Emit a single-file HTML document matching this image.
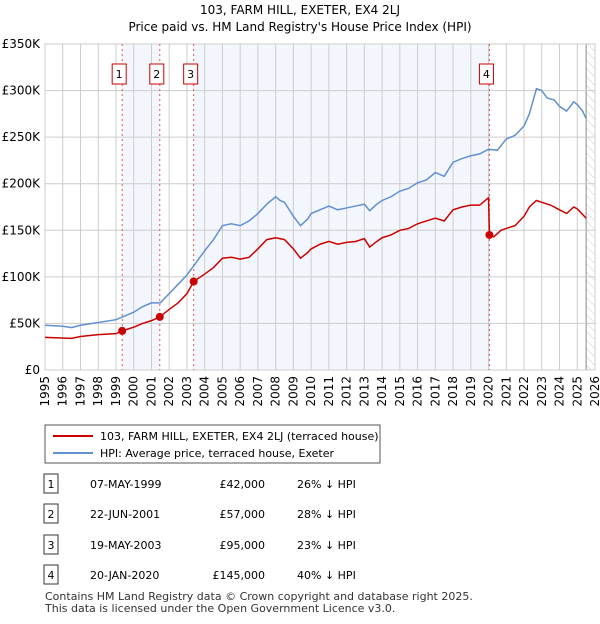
<!DOCTYPE html>
<html><head><meta charset="utf-8">
<style>
body{margin:0;background:#fff;font-family:"DejaVu Sans","Liberation Sans",sans-serif;}
svg text{font-family:"DejaVu Sans","Liberation Sans",sans-serif;}
</style></head>
<body>
<svg id="c" width="600" height="620" xmlns="http://www.w3.org/2000/svg">
<defs><pattern id="hatch" width="6" height="6" patternUnits="userSpaceOnUse" patternTransform="rotate(-45)"><line x1="0" y1="0" x2="0" y2="6" stroke="#ccc" stroke-width="1"/></pattern></defs>
<text x="300" y="14" text-anchor="middle" font-size="12">103, FARM HILL, EXETER, EX4 2LJ</text>
<text x="300" y="31" text-anchor="middle" font-size="12">Price paid vs. HM Land Registry's House Price Index (HPI)</text>
<g id="plot"></g>
<g>
<rect x="45" y="425" width="335" height="38" fill="#fff" stroke="#555"/>
<line x1="53" y1="436" x2="93" y2="436" stroke="#cc0000" stroke-width="2"/>
<text x="100" y="440" font-size="11">103, FARM HILL, EXETER, EX4 2LJ (terraced house)</text>
<line x1="53" y1="453" x2="93" y2="453" stroke="#6090d0" stroke-width="2"/>
<text x="100" y="457" font-size="11">HPI: Average price, terraced house, Exeter</text>
</g>
<g id="table" font-size="11"></g>
<text x="45" y="600" font-size="11" fill="#333">Contains HM Land Registry data © Crown copyright and database right 2025.</text>
<text x="45" y="612" font-size="11" fill="#333">This data is licensed under the Open Government Licence v3.0.</text>
</svg>
<script>
const hpiT=[1995,1996,1996.5,1997,1998,1999,1999.5,2000,2000.5,2001,2001.5,2002,2002.5,2003,2003.5,2004,2004.5,2005,2005.5,2006,2006.5,2007,2007.5,2008,2008.25,2008.5,2009,2009.4,2009.8,2010,2010.5,2011,2011.5,2012,2012.5,2013,2013.3,2013.7,2014,2014.5,2015,2015.5,2016,2016.5,2017,2017.5,2018,2018.5,2019,2019.5,2020,2020.5,2021,2021.5,2022,2022.3,2022.7,2023,2023.3,2023.7,2024,2024.4,2024.8,2025,2025.3,2025.5];
const hpiV=[48,47,45.5,48,51,54,58,62,68,72,72,82,92,102,115,128,140,155,157,155,160,168,178,186,182,180,165,155,162,168,172,176,172,174,176,178,171,178,182,186,192,195,201,204,212,208,223,227,230,232,237,236,248,252,262,275,302,300,292,290,283,278,288,285,278,270];
const priceT=[1995,1996.5,1997,1998,1999,1999.35,2000,2000.5,2001,2001.47,2002,2002.5,2003,2003.38,2004,2004.5,2005,2005.5,2006,2006.5,2007,2007.5,2008,2008.5,2009,2009.4,2009.8,2010,2010.5,2011,2011.5,2012,2012.5,2013,2013.3,2013.7,2014,2014.5,2015,2015.5,2016,2016.5,2017,2017.5,2018,2018.5,2019,2019.5,2020.0,2020.05,2020.3,2020.7,2021,2021.5,2022,2022.3,2022.7,2023,2023.5,2024,2024.4,2024.8,2025,2025.5];
const priceV=[35,34,36,38,39,42,46,50,53,57,65,72,82,95,103,110,120,121,119,121,130,140,142,140,130,120,126,130,135,138,135,137,138,141,132,138,142,145,150,152,157,160,163,160,172,175,177,177,185,145,143,150,152,155,165,175,182,180,177,172,168,175,173,163];
const saleT=[1999.35,2001.47,2003.38,2020.05];
const saleV=[42,57,95,145];
const saleLabels=["1","2","3","4"];
const saleDates=["07-MAY-1999","22-JUN-2001","19-MAY-2003","20-JAN-2020"];
const salePrices=["£42,000","£57,000","£95,000","£145,000"];
const salePct=["26% ↓ HPI","28% ↓ HPI","23% ↓ HPI","40% ↓ HPI"];
const yTicks=[0,50,100,150,200,250,300,350];
const yTickLabels=["£0","£50K","£100K","£150K","£200K","£250K","£300K","£350K"];
const xYears=[1995,1996,1997,1998,1999,2000,2001,2002,2003,2004,2005,2006,2007,2008,2009,2010,2011,2012,2013,2014,2015,2016,2017,2018,2019,2020,2021,2022,2023,2024,2025,2026];

const L=45,R=595,T=44,B=370;
const x=t=>L+(t-1995)/31*(R-L);
const y=v=>B-v/350*(B-T);
const NS="http://www.w3.org/2000/svg";
const g=document.getElementById('plot');
function mk(tag,at,parent){const e=document.createElementNS(NS,tag);for(const k in at)e.setAttribute(k,at[k]);(parent||g).appendChild(e);return e;}

let e;
e=mk('rect',{x:x(saleT[0]),y:T,width:x(saleT[1])-x(saleT[0]),height:B-T,fill:'#eef3fc',opacity:0.7});


e=mk('rect',{x:x(saleT[2]),y:T,width:x(saleT[3])-x(saleT[2]),height:B-T,fill:'#eef3fc',opacity:0.7});


e=mk('rect',{x:x(2025.5),y:T,width:R-x(2025.5),height:B-T,fill:'url(#hatch)'});


mk('line',{x1:x(2025.5),y1:T,x2:x(2025.5),y2:B,stroke:'#888'});

xYears.forEach(t=>{
  const l=mk('line',{x1:x(t),y1:T,x2:x(t),y2:B,stroke:'#ccc'});
  
  
  const tx=mk('text',{x:0,y:0,'font-size':12,'text-anchor':'end',transform:`translate(${x(t)+4},${B+6}) rotate(-90)`});
  tx.textContent=t;
  
  
});
yTicks.forEach((v,i)=>{
  const l=mk('line',{x1:L,y1:y(v),x2:R,y2:y(v),stroke:'#ccc'});
  
  
  const tx=mk('text',{x:L-5,y:y(v)+4,'font-size':12,'text-anchor':'end'});
  tx.textContent=yTickLabels[i];
  
  
});
mk('rect',{x:L,y:T,width:R-L,height:B-T,fill:'none',stroke:'#ccc'});

saleT.forEach((t,i)=>{
  const l=mk('line',{x1:x(t),y1:T,x2:x(t),y2:B,stroke:'#e05050','stroke-dasharray':'2,3'});
  
  
  const bx=mk('rect',{x:x(t)-3-7,y:64,width:14,height:20,fill:'#fff',stroke:'#cc0000'});
  
  
  const tx=mk('text',{x:x(t)-3,y:78,'font-size':11,'text-anchor':'middle'});
  tx.textContent=saleLabels[i];
  
  
});

const hp=mk('polyline',{points:hpiT.map((t,i)=>x(t)+','+y(hpiV[i])).join(' '),fill:'none',stroke:'#6090d0','stroke-width':1.5});


const pp=mk('polyline',{points:priceT.map((t,i)=>x(t)+','+y(priceV[i])).join(' '),fill:'none',stroke:'#cc0000','stroke-width':1.5});


saleT.forEach((t,i)=>{
  const c=mk('circle',{cx:x(t),cy:y(saleV[i]),r:4,fill:'#cc0000'});
  
  
});

const tb=document.getElementById('table');
const rowY=[484,514,545,575];
saleT.forEach((t,i)=>{
  const b=mk('rect',{x:44,y:rowY[i]-10,width:14,height:19,fill:'#fff',stroke:'#333'},tb);
  
  
  const cols=[[51,saleLabels[i],'middle'],[90,saleDates[i],'start'],[265,salePrices[i],'end'],[297,salePct[i],'start']];
  cols.forEach(([cx,s,a])=>{
    const tx=mk('text',{x:cx,y:rowY[i]+4,'text-anchor':a},tb);
    tx.textContent=s;
    
    
  });
});
</script>
</body></html>
